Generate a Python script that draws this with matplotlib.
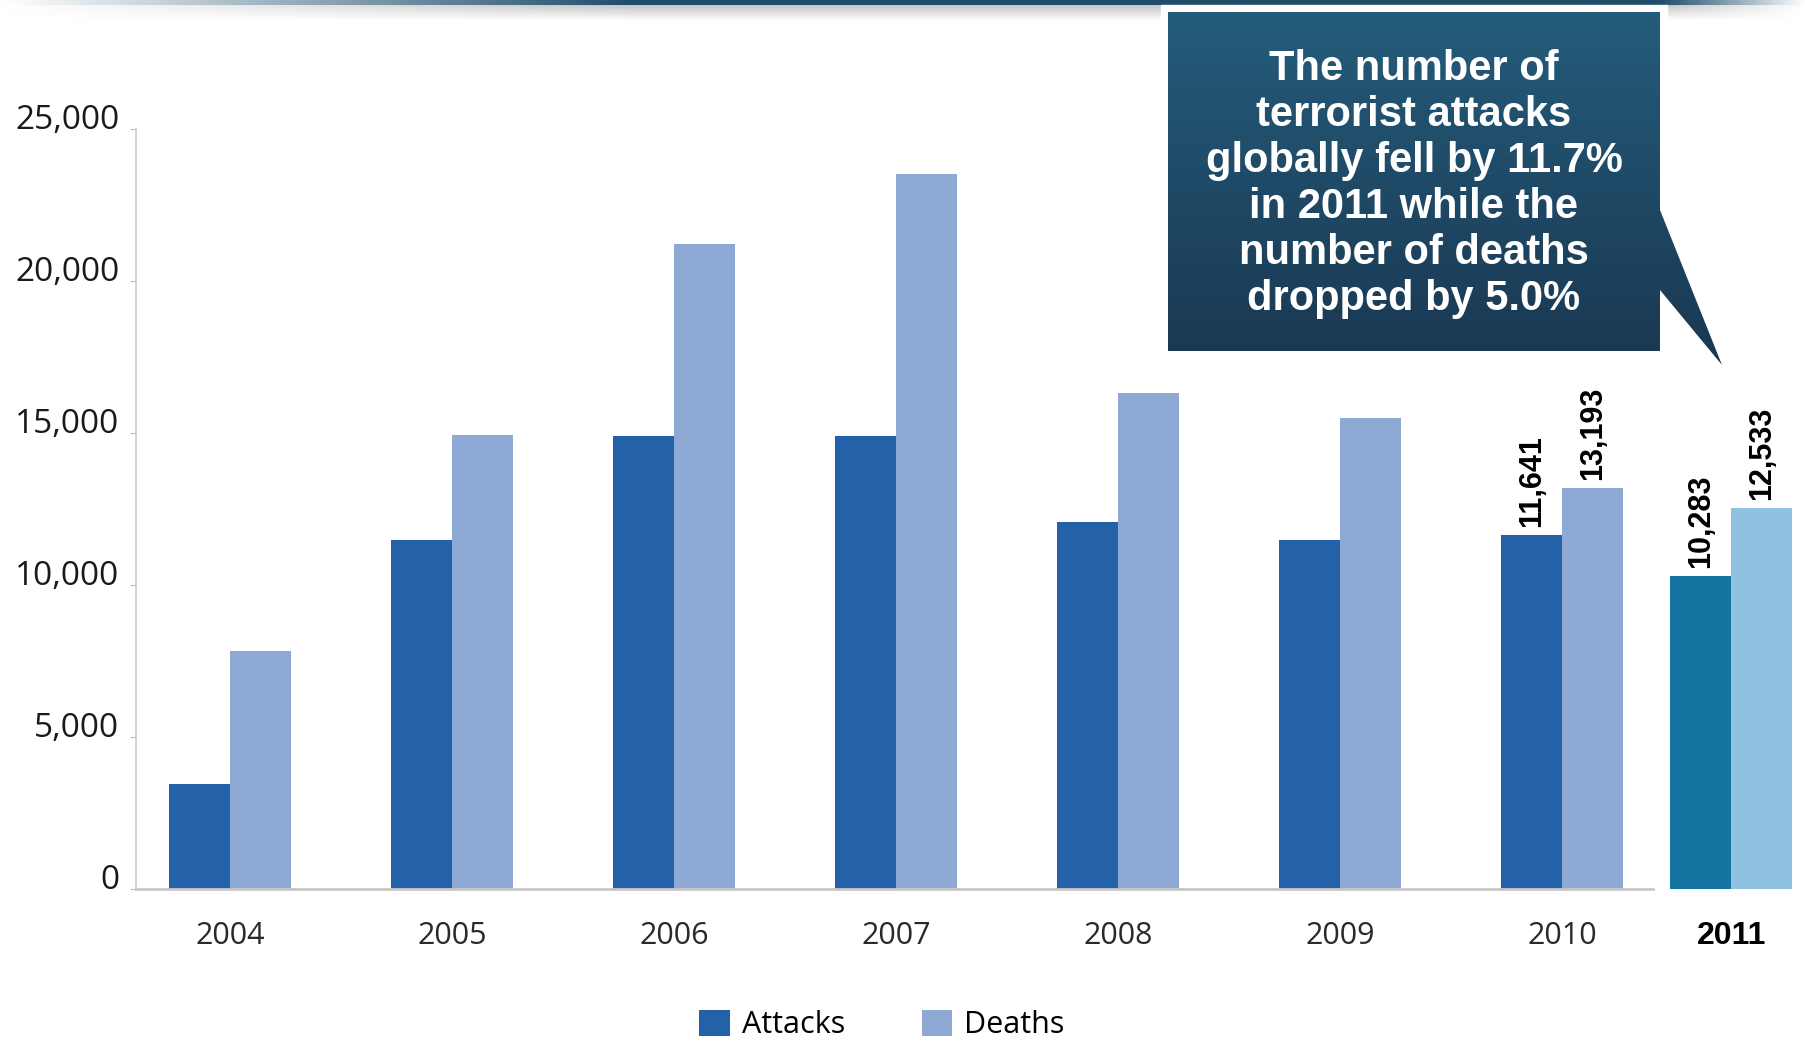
import numpy as np
import matplotlib
matplotlib.use('Agg')
import matplotlib.pyplot as plt
from matplotlib.patches import Polygon, Rectangle

years = ['2004', '2005', '2006', '2007', '2008', '2009', '2010']
attacks = [3450, 11480, 14890, 14890, 12080, 11480, 11641]
deaths = [7840, 14920, 21210, 23520, 16330, 15490, 13193]

year_2011 = '2011'
attacks_2011 = 10283
deaths_2011 = 12533

callout_lines = ['The number of', 'terrorist attacks', 'globally fell by 11.7%',
                 'in 2011 while the', 'number of deaths', 'dropped by 5.0%']

c_att = '#2362a8'
c_dth = '#8eaad4'
c_att11 = '#15739f'
c_dth11 = '#8fc2e0'

W, H = 1806, 1045
fig = plt.figure(figsize=(W / 100, H / 100), dpi=100)
ax = fig.add_axes([136 / W, 1 - 889 / H, (1793 - 136) / W, (889 - 129) / H])

bw = 0.275
x = np.arange(len(years))
x11 = 6.762

ax.bar(x - bw / 2, attacks, bw, color=c_att, label='Attacks', zorder=2)
ax.bar(x + bw / 2, deaths, bw, color=c_dth, label='Deaths', zorder=2)
ax.bar(x11 - bw / 2, attacks_2011, bw, color=c_att11, zorder=2)
ax.bar(x11 + bw / 2, deaths_2011, bw, color=c_dth11, zorder=2)

# value labels only on last two years
lab_font = dict(rotation=90, ha='center', va='bottom', fontsize=22,
                fontweight='bold', family='Liberation Sans', color='black')
for xx, v in [(x[-1] - bw / 2, attacks[-1]), (x[-1] + bw / 2, deaths[-1]),
              (x11 - bw / 2, attacks_2011), (x11 + bw / 2, deaths_2011)]:
    ax.annotate(f'{v:,}', (xx, v), xytext=(0, 6), textcoords='offset points', **lab_font)

ax.set_xlim(-0.425, 7.04)
ax.set_ylim(0, 25000)
ax.set_yticks(np.arange(0, 25001, 5000))
ax.set_yticklabels([f'{v:,}' for v in range(0, 25001, 5000)],
                   family='Open Sans', fontsize=24, color='#1a1a1a', va='baseline')
ax.tick_params(axis='y', length=4, color='#bbbbbb', pad=8)

ax.set_xticks(list(x) + [x11])
ax.set_xticklabels(years + [year_2011], family='Open Sans', fontsize=22, color='#2a2a2a')
tl = ax.get_xticklabels()[-1]
tl.set_family('Liberation Sans')
tl.set_fontweight('bold')
tl.set_color('black')
tl.set_fontsize(23)
ax.tick_params(axis='x', length=0, pad=23)

for s in ['top', 'right', 'bottom']:
    ax.spines[s].set_visible(False)
ax.spines['left'].set_color('#cccccc')
ax.spines['left'].set_linewidth(1.2)
ax.plot([-0.425, 6.41], [0, 0], color='#c8c8c8', lw=2, zorder=3, clip_on=False)

leg = fig.legend(loc='center', bbox_to_anchor=(882 / W, 1 - 1025 / H), ncol=2, frameon=False,
                 prop={'family': 'Open Sans', 'size': 22}, handlelength=1.0, handleheight=0.95,
                 columnspacing=2.5, handletextpad=0.4)

# overlay in pixel coords
ov = fig.add_axes([0, 0, 1, 1], zorder=5)
ov.set_xlim(0, W)
ov.set_ylim(H, 0)
ov.axis('off')
ov.patch.set_alpha(0)

# top banner shadow line
img = np.zeros((20, W, 4))
xs = np.linspace(0, 1, W)
fade = np.clip(xs / 0.35, 0, 1) * np.clip((1 - xs) / 0.08, 0, 1)
dark = np.array([0.12, 0.30, 0.42])
gray = np.array([0.55, 0.55, 0.55])
for r in range(20):
    if r < 5:
        img[r, :, :3] = dark
        img[r, :, 3] = fade
    else:
        img[r, :, :3] = gray
        img[r, :, 3] = fade * 0.5 * (1 - (r - 5) / 15)
ov.imshow(img, extent=(0, W, 20, 0), aspect='auto', interpolation='bilinear', zorder=1)

# callout box
ov.add_patch(Rectangle((1161, 5), 506, 353, color='white', zorder=2))
verts = [(1168, 12), (1660, 12), (1660, 210), (1722, 365), (1660, 290), (1660, 351), (1168, 351)]
poly = Polygon(verts, closed=True, facecolor='none', edgecolor='none', zorder=3)
ov.add_patch(poly)
top_c = np.array([0x24, 0x5c, 0x7b]) / 255
bot_c = np.array([0x1a, 0x37, 0x51]) / 255
t = np.linspace(0, 1, 256)[:, None]
grad = (top_c[None, :] * (1 - t) + bot_c[None, :] * t)[:, None, :]
gi = ov.imshow(grad, extent=(1168, 1722, 365, 12), aspect='auto', zorder=3)
gi.set_clip_path(poly)

for i, line in enumerate(callout_lines):
    ov.text(1414, 69 + i * 46, line, ha='center', va='center', color='white',
            fontsize=30, fontweight='bold', family='Liberation Sans', zorder=4)

plt.savefig('out.png', dpi=100)
